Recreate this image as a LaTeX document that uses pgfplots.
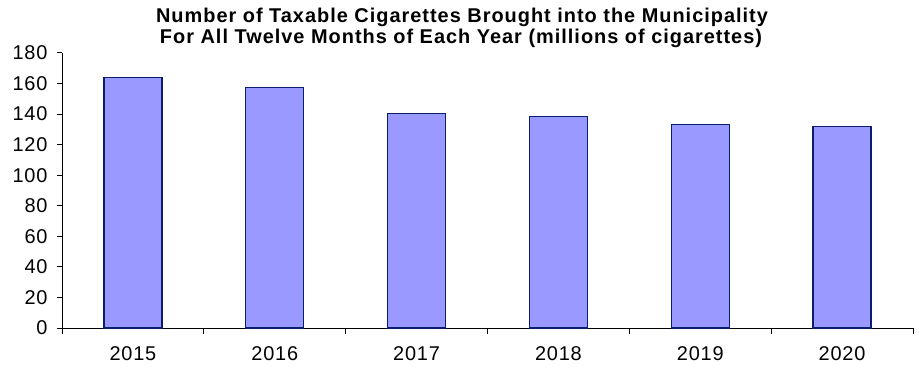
\documentclass[border=0pt]{standalone}
\usepackage{pgfplots}
\pgfplotsset{compat=1.18}
\usepackage{fontspec}
\setmainfont{Liberation Sans}
\definecolor{barfill}{HTML}{9999FF}
\definecolor{baredge}{HTML}{0A1F6B}
\begin{document}
\begin{tikzpicture}[x=1bp,y=1bp]
\useasboundingbox (0,0) rectangle (919,368);
\begin{axis}[
  at={(62bp,40bp)}, anchor=south west,
  scale only axis, width=851bp, height=275bp,
  xmin=-0.5, xmax=5.5, ymin=0, ymax=180,
  ytick={0,20,...,180},
  xtick={0,...,5}, xticklabels={2015,2016,2017,2018,2019,2020},
  minor xtick={-0.5,0.5,...,5.5},
  major x tick style={draw=none},
  tick align=outside,
  major tick length=5bp, minor tick length=6bp,
  axis x line*=bottom, axis y line*=left,
  axis line style={black, line width=1bp, -},
  every tick/.style={black, line width=1bp},
  every minor tick/.style={black, line width=1bp},
  tick label style={font=\fontsize{20}{22}\selectfont\addfontfeature{LetterSpace=4}},
  /pgf/number format/assume math mode=true,
  yticklabel style={xshift=-6bp},
  xticklabel style={yshift=-10bp},
  ybar, bar width=58bp,
]
\addplot[fill=barfill, draw=baredge, line width=1.2bp] coordinates {(0,164.2) (1,157.6) (2,140.5) (3,138.2) (4,133) (5,131.7)};
\end{axis}
\node[font=\bfseries\fontsize{20}{21}\selectfont\addfontfeature{LetterSpace=5}, anchor=base, inner sep=0pt] at (462,346) {Number of Taxable Cigarettes Brought into the Municipality};
\node[font=\bfseries\fontsize{20}{21}\selectfont\addfontfeature{LetterSpace=5}, anchor=base, inner sep=0pt] at (461,325) {For All Twelve Months of Each Year (millions of cigarettes)};
\end{tikzpicture}
\end{document}
